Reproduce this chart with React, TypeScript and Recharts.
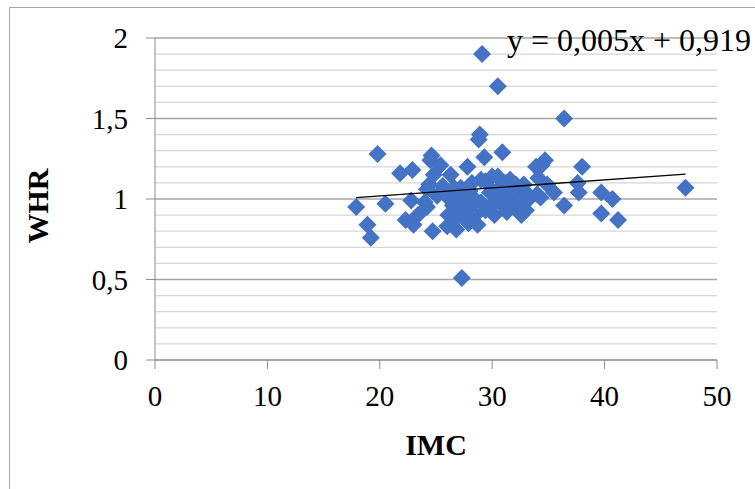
import {
  ScatterChart,
  Scatter,
  XAxis,
  YAxis,
  CartesianGrid,
  ReferenceLine,
  Label,
} from 'recharts';

const imc = [
  17.9, 18.9, 19.2, 19.8, 20.5, 21.8, 22.3, 22.9, 22.8, 23.0,
  23.4, 24.0, 24.2, 24.4, 24.2, 24.6, 24.5, 24.8, 24.7, 25.4,
  25.6, 26.3, 26.5, 26.0, 26.8, 27.4, 26.6, 27.6, 27.3, 27.8,
  28.2, 27.9, 28.5, 28.3, 29.0, 29.0, 28.7, 28.9, 28.8, 29.1,
  30.5, 29.3, 29.4, 29.8, 29.9, 30.2, 30.0, 30.5, 30.8, 30.9,
  31.0, 31.3, 31.4, 31.6, 31.8, 32.1, 32.4, 32.7, 33.0, 32.8,
  33.4, 33.9, 34.0, 34.1, 33.0, 34.7, 34.4, 34.9, 34.3, 35.5,
  36.4, 36.4, 38.0, 37.6, 37.7, 39.7, 39.7, 40.7, 41.2, 47.2,
  25.9, 27.0, 28.1, 29.4, 30.6, 31.2, 32.1, 27.2, 32.6, 26.8,
  25.1, 30.0, 31.1, 28.0, 26.1,
];
const whr = [
  0.95, 0.84, 0.76, 1.28, 0.97, 1.16, 0.87, 1.18, 0.99, 0.84,
  0.90, 0.98, 1.06, 1.09, 0.95, 1.27, 1.24, 1.15, 0.80, 1.21,
  1.08, 1.15, 0.96, 0.83, 0.81, 0.92, 1.07, 1.02, 0.51, 1.20,
  1.10, 0.85, 0.90, 1.01, 1.12, 0.98, 0.84, 1.40, 1.37, 1.90,
  1.70, 1.26, 1.11, 1.04, 0.96, 0.90, 1.14, 1.14, 1.08, 1.29,
  0.99, 0.92, 1.06, 1.12, 0.99, 0.94, 1.02, 0.96, 1.04, 1.09,
  1.01, 1.20, 1.03, 1.13, 0.93, 1.24, 1.21, 1.09, 1.01, 1.04,
  1.50, 0.96, 1.20, 1.10, 1.04, 1.04, 0.91, 1.00, 0.87, 1.07,
  1.02, 0.99, 0.96, 0.93, 1.01, 1.10, 1.09, 1.07, 0.90, 0.88,
  1.02, 1.05, 0.95, 1.05, 0.90,
];

const xTicks = [0, 10, 20, 30, 40, 50];
const yTicks = [0, 0.5, 1, 1.5, 2];
const minorTicks = [0.1, 0.2, 0.3, 0.4, 0.6, 0.7, 0.8, 0.9, 1.1, 1.2, 1.3, 1.4, 1.6, 1.7, 1.8, 1.9];

const slope = 0.005;
const intercept = 0.919;

const points = imc.map((x, i) => ({ x, y: whr[i] }));
const xMin = Math.min(...imc);
const xMax = Math.max(...imc);
const trend = [xMin, xMax].map((x) => ({ x, y: slope * x + intercept }));

const FONT = 'Liberation Serif, Times New Roman, serif';
const BLUE = '#4472C4';

const Diamond = (props: any) => {
  const { cx, cy } = props;
  const r = 9;
  return (
    <polygon
      points={`${cx},${cy - r} ${cx + r},${cy} ${cx},${cy + r} ${cx - r},${cy}`}
      fill={BLUE}
    />
  );
};

const fmt = (v: number) => String(v).replace('.', ',');

export default function App() {
  return (
    <div style={{ position: 'absolute', left: 0, top: 0, width: 755, height: 489, background: '#fff', overflow: 'hidden' }}>
      <div
        style={{
          position: 'absolute',
          left: 9,
          top: 7,
          width: 800,
          height: 600,
          border: '1px solid #a6a6a6',
        }}
      />
      <ScatterChart
        width={755}
        height={489}
        margin={{ top: 38, right: 38, left: 0, bottom: 0 }}
        style={{ position: 'absolute', left: 0, top: 0, fontFamily: FONT }}
      >
        <CartesianGrid horizontal={false} vertical={false} />
        {minorTicks.map((t) => (
          <ReferenceLine key={t} y={t} stroke='#d6d6d6' strokeWidth={1.2} />
        ))}
        {yTicks.map((t) => (
          <ReferenceLine key={'m' + t} y={t} stroke='#a6a6a6' strokeWidth={1.5} />
        ))}
        <XAxis
          type='number'
          dataKey='x'
          domain={[0, 50]}
          ticks={xTicks}
          height={129}
          tickSize={9}
          tickMargin={16}
          stroke='#8c8c8c'
          tick={{ fill: '#000', fontSize: 29, fontFamily: FONT }}
          interval={0}
        >
          <Label
            content={({ viewBox }: any) => (
              <text
                x={viewBox.x + viewBox.width / 2}
                y={455}
                textAnchor='middle'
                fontFamily={FONT}
                fontWeight='bold'
                fontSize={30}
                fill='#000'
              >
                IMC
              </text>
            )}
          />
        </XAxis>
        <YAxis
          type='number'
          dataKey='y'
          domain={[0, 2]}
          ticks={yTicks}
          width={155}
          tickSize={9}
          tickMargin={18}
          stroke='#8c8c8c'
          tickFormatter={fmt}
          tick={{ fill: '#000', fontSize: 29, fontFamily: FONT }}
          interval={0}
        >
          <Label
            content={() => (
              <text
                x={48}
                y={206}
                transform='rotate(-90 48 206)'
                textAnchor='middle'
                fontFamily={FONT}
                fontWeight='bold'
                fontSize={30}
                fill='#000'
              >
                WHR
              </text>
            )}
          />
        </YAxis>
        <Scatter data={points} shape={Diamond} isAnimationActive={false} />
        <Scatter
          data={trend}
          line={{ stroke: '#000', strokeWidth: 1.3 }}
          shape={() => null}
          isAnimationActive={false}
        />
      </ScatterChart>
      <div
        style={{
          position: 'absolute',
          left: 507,
          top: 24,
          fontFamily: FONT,
          fontSize: 32,
          color: '#000',
          whiteSpace: 'nowrap',
          lineHeight: '32px',
        }}
      >
        y = 0,005x + 0,919
      </div>
    </div>
  );
}
